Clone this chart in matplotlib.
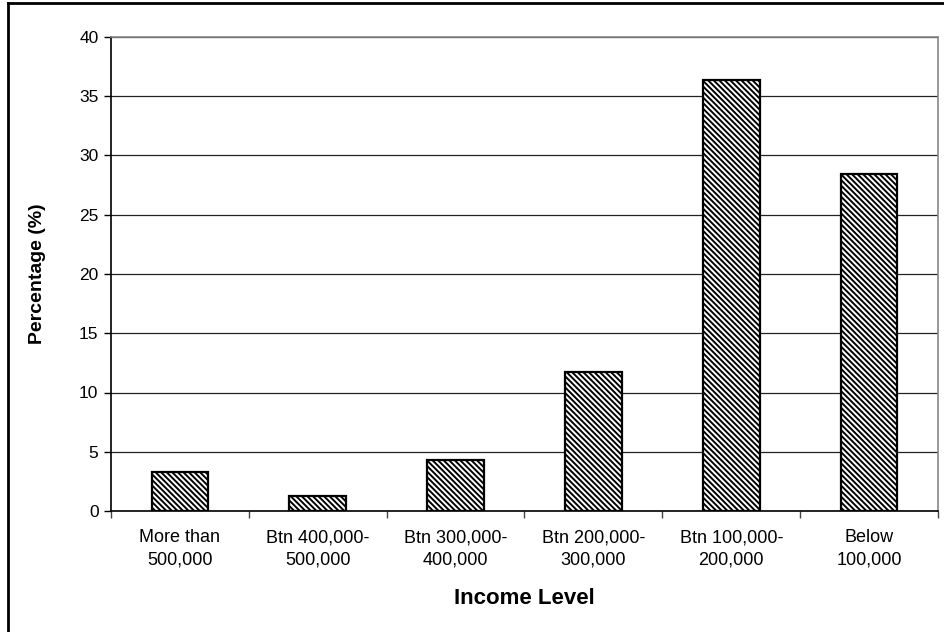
import matplotlib
matplotlib.use("Agg")
import matplotlib.pyplot as plt
from matplotlib.lines import Line2D
import numpy as np

categories = ["More than\n500,000", "Btn 400,000-\n500,000", "Btn 300,000-\n400,000",
              "Btn 200,000-\n300,000", "Btn 100,000-\n200,000", "Below\n100,000"]
values = [3.3, 1.26, 4.3, 11.7, 36.4, 28.4]
yticks = [0, 5, 10, 15, 20, 25, 30, 35, 40]

plt.rcParams['font.family'] = ['Liberation Sans', 'DejaVu Sans']
plt.rcParams['hatch.linewidth'] = 1.4
plt.rcParams['hatch.color'] = '#404040'

W, H = 944, 632
fig = plt.figure(figsize=(W / 100, H / 100), dpi=100)
ax = fig.add_axes([111 / W, 1 - 511 / H, (938 - 111) / W, (511 - 37) / H])

x = np.arange(len(categories))
ax.bar(x, values, width=0.41, color='white', edgecolor='black', linewidth=1.6,
       hatch='\\\\\\\\\\\\', zorder=3)

ax.set_xlim(-0.5, len(categories) - 0.5)
ax.set_ylim(0, 40)
ax.set_yticks(yticks)
ax.set_yticklabels([str(v) for v in yticks], fontsize=12.5)
ax.yaxis.grid(True, color='#222222', linewidth=0.9, zorder=0)
ax.set_axisbelow(True)

ax.set_xticks(x)
ax.set_xticklabels(categories, fontsize=13, linespacing=1.45)
ax.tick_params(axis='x', length=0, pad=13)
ax.set_xticks(np.arange(len(categories) + 1) - 0.5, minor=True)
ax.tick_params(axis='x', which='minor', length=5, direction='out', width=1, color='#444444')
ax.tick_params(axis='y', length=5, direction='out', width=1, pad=4)

for s in ['left', 'bottom']:
    ax.spines[s].set_color('black')
    ax.spines[s].set_linewidth(1.2)
for s in ['top', 'right']:
    ax.spines[s].set_color('#888888')
    ax.spines[s].set_linewidth(1.2)

ax.set_ylabel("Percentage (%)", fontsize=14, fontweight='bold')
ax.yaxis.set_label_coords((46 - 111) / (938 - 111), 0.5)
fig.text(524 / W, 1 - 599 / H, "Income Level", ha='center', va='center',
         fontsize=16, fontweight='bold')

# figure border (left and top)
fig.add_artist(Line2D([8 / W, 8 / W], [0, 1 - 3 / H], color='black', linewidth=2,
                      transform=fig.transFigure))
fig.add_artist(Line2D([8 / W, 1], [1 - 3 / H, 1 - 3 / H], color='black', linewidth=2,
                      transform=fig.transFigure))

fig.savefig("out.png", dpi=100)
